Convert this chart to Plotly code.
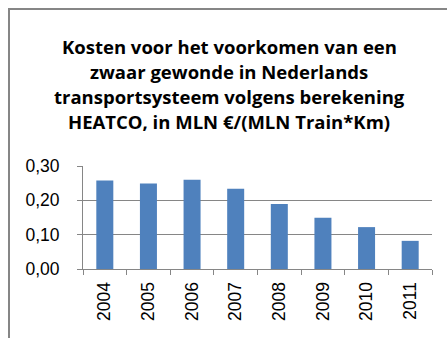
import plotly.graph_objects as go

years = ["2004", "2005", "2006", "2007", "2008", "2009", "2010", "2011"]
costs = [0.258, 0.249, 0.260, 0.234, 0.189, 0.149, 0.122, 0.082]

title_lines = [
    "Kosten voor het voorkomen van een",
    "zwaar gewonde in Nederlands",
    "transportsysteem volgens berekening",
    "HEATCO, in MLN €/(MLN Train*Km)",
]

W, H = 447, 338
L, R, T, B = 83, 15, 166, 69
pw, ph = W - L - R, H - T - B


def px_x(x):
    return (x - L) / pw


def px_y(y):
    return (H - B - y) / ph


grid = "#868686"
font = "Liberation Sans, Arial, sans-serif"

fig = go.Figure(
    go.Bar(x=years, y=costs, marker=dict(color="#4F81BD", line=dict(width=0)))
)

fig.update_layout(
    width=W,
    height=H,
    margin=dict(l=L, r=R, t=T, b=B),
    paper_bgcolor="white",
    plot_bgcolor="white",
    separators=",.",
    bargap=0.61,
    showlegend=False,
    font=dict(family=font, size=17, color="black"),
)

fig.update_xaxes(
    type="category",
    tickangle=-90,
    showline=True,
    linecolor=grid,
    linewidth=1,
    ticks="outside",
    tickson="boundaries",
    ticklen=5,
    tickcolor=grid,
    showgrid=False,
    tickfont=dict(size=17.5),
    ticklabelstandoff=5,
)
fig.update_yaxes(
    range=[0, 0.3],
    dtick=0.1,
    tickformat=".2f",
    showline=True,
    linecolor=grid,
    linewidth=1,
    ticks="outside",
    ticklen=5,
    tickcolor=grid,
    showgrid=True,
    gridcolor=grid,
    gridwidth=1,
    zeroline=False,
    tickfont=dict(size=17.5),
    ticklabelstandoff=14,
)

# Chart title, one line per annotation
for i, line in enumerate(title_lines):
    fig.add_annotation(
        text=f"<b>{line}</b>",
        xref="paper",
        yref="paper",
        x=px_x(229),
        y=px_y(46 + 25 * i),
        showarrow=False,
        xanchor="center",
        yanchor="middle",
        font=dict(family="Open Sans, sans-serif", size=18.5, color="black"),
    )

# Outer chart frame
fig.add_shape(
    type="path",
    xref="paper",
    yref="paper",
    path=f"M {px_x(9)} {px_y(345)} L {px_x(9)} {px_y(9)} L {px_x(455)} {px_y(9)}",
    line=dict(color=grid, width=2),
)

fig.write_html("out.html")
